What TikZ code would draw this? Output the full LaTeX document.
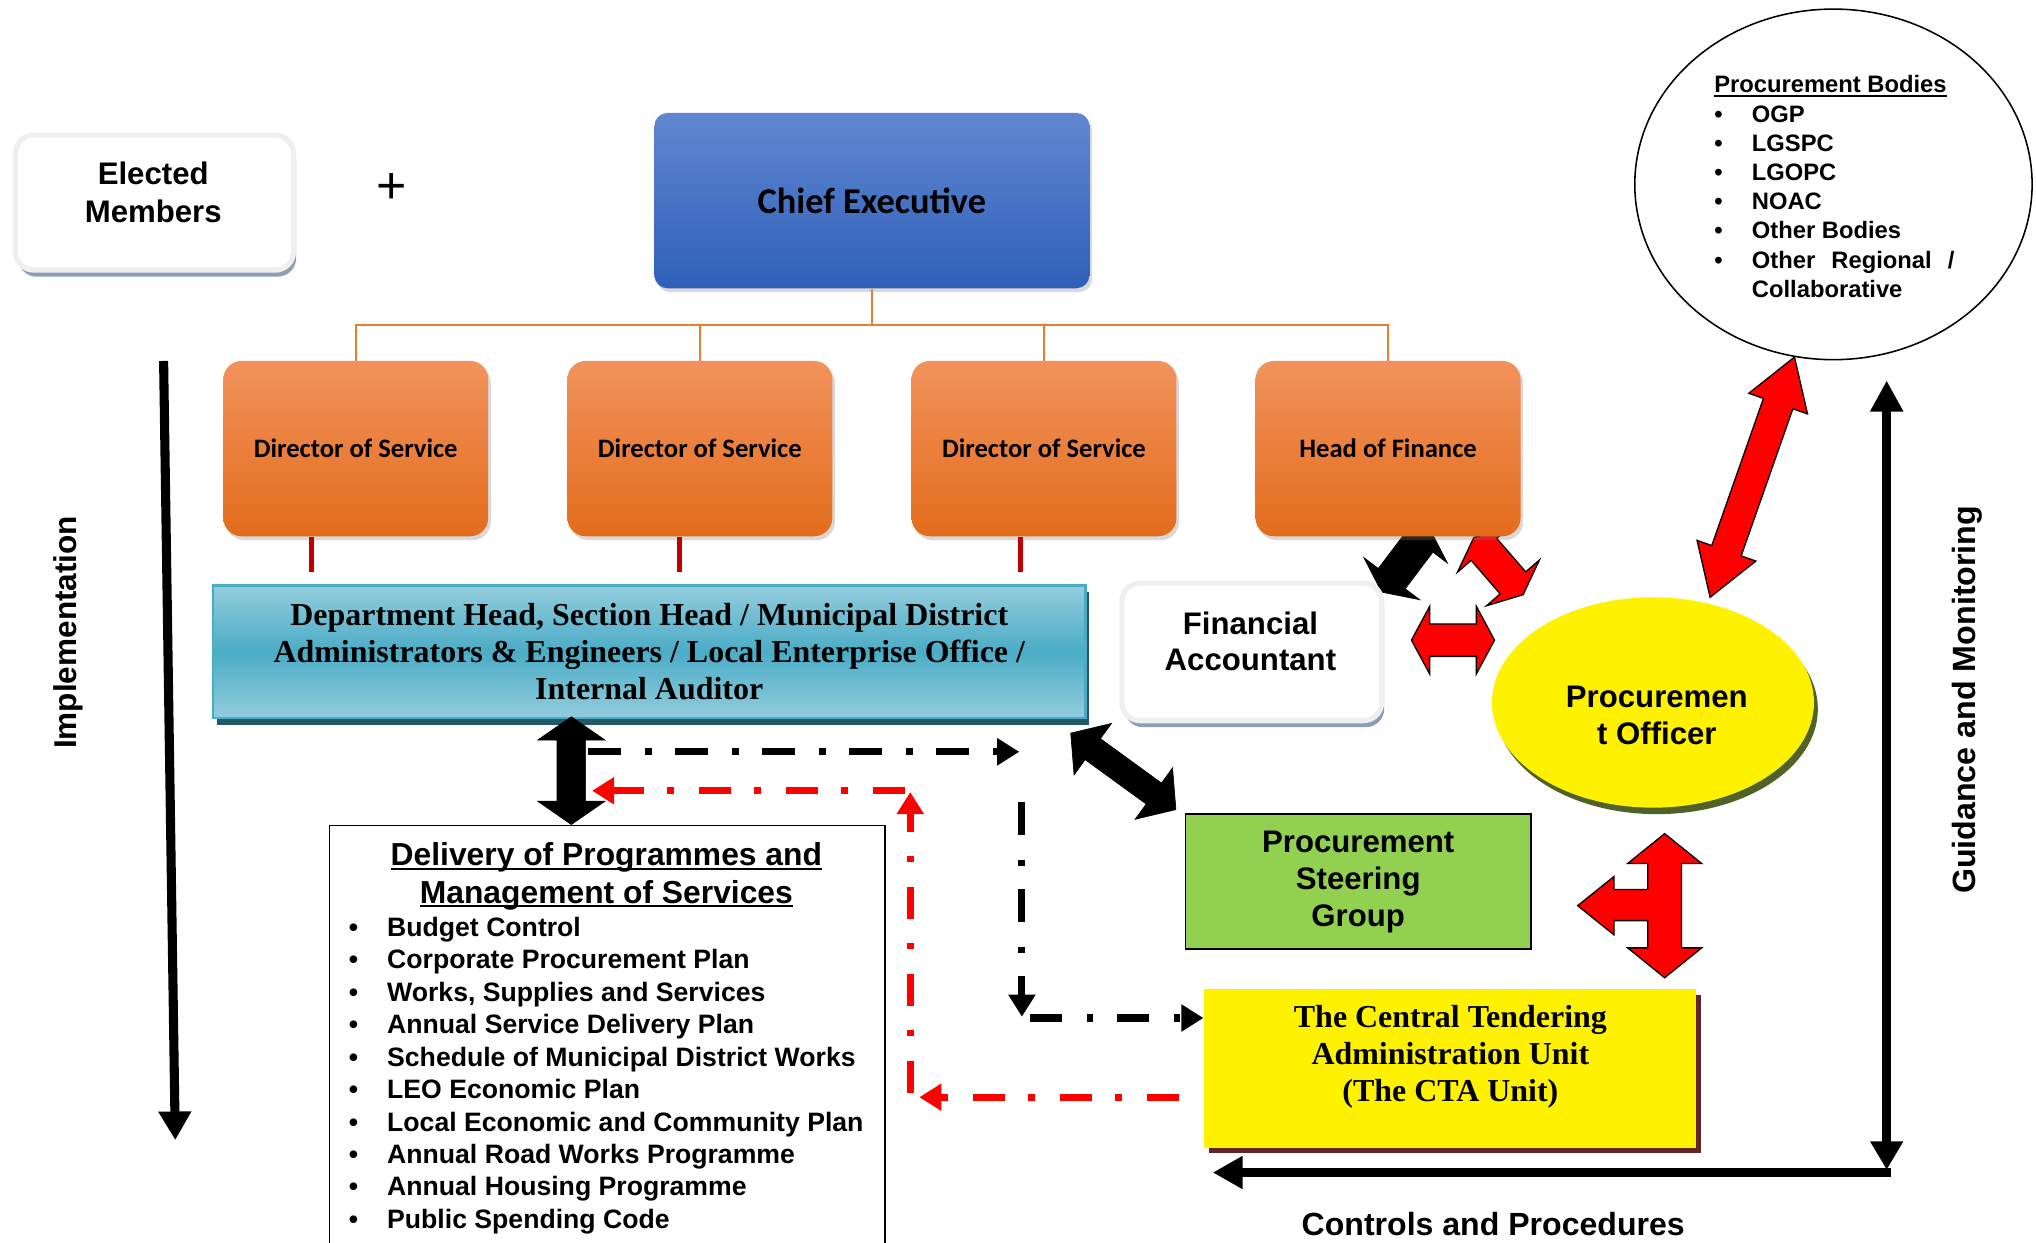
\documentclass[tikz,border=0pt]{standalone}
\usepackage{fontspec}
\setmainfont{Liberation Sans}
\newfontfamily\timesfont{Liberation Serif}
\newfontfamily\calfont{Carlito}
\usetikzlibrary{calc,arrows.meta,shadows,shapes.geometric,backgrounds}

\definecolor{orgtop}{HTML}{F2935C}
\definecolor{orgbot}{HTML}{E36C1C}
\definecolor{cetop}{HTML}{6088D0}
\definecolor{cebot}{HTML}{2F5FB9}
\definecolor{tealmid}{HTML}{4BACC6}
\definecolor{teallt}{HTML}{93CDDD}
\definecolor{tealdk}{HTML}{215968}
\definecolor{psggreen}{HTML}{92D050}
\definecolor{ctashadow}{HTML}{632523}
\definecolor{poshadow}{HTML}{4F6228}
\definecolor{greyrim}{HTML}{EFEFEF}
\definecolor{greyshadow}{HTML}{8C9DB5}
\definecolor{treeorange}{HTML}{ED7D31}
\definecolor{tickred}{HTML}{C00000}

\newcommand{\fsz}[2]{\fontsize{#1}{#2}\selectfont}
\newcommand{\undl}[1]{\setbox0\hbox{#1}\rlap{\rule[-3pt]{\wd0}{1.6pt}}\box0}
\newcommand{\bul}[1]{\makebox[#1][l]{\textbullet}}

% double headed block arrow: style, from, to, shaft half width, head half width, head length
\newcommand{\blockarrow}[6]{%
  \path let \p1=($(#3)-(#2)$) in \pgfextra{%
    \pgfmathparse{veclen(\x1,\y1)}\xdef\blen{\pgfmathresult}%
    \pgfmathparse{atan2(\y1,\x1)}\xdef\bang{\pgfmathresult}};
  \filldraw[#1, shift={(#2)}, rotate=\bang]
    (0pt,0pt) -- (#6pt,#5pt) -- (#6pt,#4pt) -- (\blen pt-#6pt,#4pt) -- (\blen pt-#6pt,#5pt)
    -- (\blen pt,0pt) -- (\blen pt-#6pt,-#5pt) -- (\blen pt-#6pt,-#4pt) -- (#6pt,-#4pt)
    -- (#6pt,-#5pt) -- cycle;
}

\tikzset{
  lightbox/.style={rounded corners=14pt, draw=greyrim, line width=4pt, fill=white,
    drop shadow={shadow xshift=2pt, shadow yshift=-5pt, fill=greyshadow, opacity=1}},
  cebox/.style={rounded corners=10pt, top color=cetop, bottom color=cebot,
    minimum width=335pt, minimum height=135pt, font=\calfont\bfseries\fsz{28}{32},
    drop shadow={shadow xshift=2pt, shadow yshift=-3pt, opacity=.3}},
  orgbox/.style={rounded corners=14pt, top color=orgtop, bottom color=orgbot,
    minimum width=204pt, minimum height=135pt, font=\calfont\bfseries\fsz{20.5}{24},
    drop shadow={shadow xshift=2pt, shadow yshift=-3pt, opacity=.3}},
  deptbox/.style={draw=tealmid, line width=2pt, top color=teallt, bottom color=teallt,
    middle color=tealmid, minimum width=672pt, minimum height=102pt, align=center,
    font=\timesfont\bfseries\fsz{24.6}{28.5},
    drop shadow={shadow xshift=3pt, shadow yshift=-5pt, fill=tealdk, opacity=1}},
  psgbox/.style={draw=black, line width=1.5pt, fill=psggreen, minimum width=266pt,
    minimum height=104pt, align=center, font=\bfseries\fsz{24}{28.5}},
  ctabox/.style={fill=yellow, minimum width=379pt, minimum height=122pt,
    drop shadow={shadow xshift=4pt, shadow yshift=-4pt, fill=ctashadow, opacity=1}},
  poell/.style={ellipse, fill=yellow, minimum width=248pt, minimum height=162pt,
    drop shadow={shadow xshift=3pt, shadow yshift=-5pt, fill=poshadow, opacity=1}},
  treeline/.style={draw=treeorange, line width=1.5pt},
  redtick/.style={draw=tickred, line width=4pt},
  bigline/.style={line width=7pt},
  dashblack/.style={line width=5.5pt, dash pattern=on 25pt off 19pt on 5pt off 18pt,
    -{Triangle[width=20pt,length=17pt]}},
  dashred/.style={dashblack, red},
  redarrow/.style={fill=red, draw=black, line width=1pt},
  blkarrow/.style={fill=black, draw=black, line width=.5pt},
}

\begin{document}
\begin{tikzpicture}[x=1pt, y=-1pt]
\useasboundingbox (0,0) rectangle (1568,957);
\clip (0,0) rectangle (1568,957);

% block arrows hidden under Head of Finance
\coordinate (fa1) at (1064,456);
\coordinate (fa2) at (1101,407);
\coordinate (hf1) at (1135,414);
\coordinate (hf2) at (1173,458);
\begin{pgfonlayer}{background}
\blockarrow{blkarrow}{fa1}{fa2}{13}{27}{13}
\blockarrow{redarrow}{hf1}{hf2}{13}{27}{12}
\end{pgfonlayer}

% top row
\node[lightbox, minimum width=214pt, minimum height=104pt] (elected) at (119,156) {};
\node[font=\bfseries\fsz{24}{29}, align=center] (electedtxt) at (118,148) {Elected\\Members};
\node[font=\fsz{40}{40}] (plus) at (302,145) {+};
\node[cebox] (chief) at (671.5,154.5) {Chief Executive};

% directors
\foreach \i/\px/\t in {1/274/Director of Service, 2/539/Director of Service,
    3/804/Director of Service, 4/1069/Head of Finance}
  \node[orgbox] (dir\i) at (\px,345.5) {\t};
\draw[treeline] (chief.south) -- ++(0,28) coordinate (bus);
\foreach \i in {1,...,4}
  \draw[treeline] (bus) -| (dir\i.north);
\foreach \i/\dx in {1/-34, 2/-16, 3/-18}
  \draw[redtick] ($(dir\i.south)+(\dx,0)$) -- ++(0,27);

% middle row
\node[deptbox] (dept) at (500,502) {Department Head, Section Head / Municipal District\\
  Administrators \& Engineers / Local Enterprise Office /\\Internal Auditor};
\node[lightbox, minimum width=200pt, minimum height=106pt] (finacc) at (964,502) {};
\node[font=\bfseries\fsz{24}{28}, align=center] (finacctxt) at (963,494) {Financial\\Accountant};
\node[poell] (procoff) at (1273,541) {};
\node[font=\bfseries\fsz{24}{28}, align=center] (procofftxt) at (1276,551) {Procuremen\\t Officer};

% procurement bodies
\node[draw, ellipse, line width=1.2pt, fill=white, minimum width=306pt,
  minimum height=270pt] (bodies) at (1412,142) {};
\node[anchor=north west, align=left, inner sep=0, font=\bfseries\fsz{18.3}{22.5}]
  (bodiestxt) at (1320,58) {\undl{Procurement Bodies}\\
  \bul{29pt}OGP\\\bul{29pt}LGSPC\\\bul{29pt}LGOPC\\\bul{29pt}NOAC\\
  \bul{29pt}Other Bodies\\\bul{29pt}\makebox[156pt][s]{Other Regional /}\\
  \makebox[29pt]{}Collaborative};

% lower row
\node[psgbox] (steer) at (1046,679) {Procurement\\Steering\\Group};
\node[ctabox] (cta) at (1116.5,823) {};
\node[font=\timesfont\bfseries\fsz{24.6}{28.5}, align=center] (ctatxt) at (1117,814)
  {The Central Tendering\\Administration Unit\\(The CTA Unit)};
\node[draw, line width=1.3pt, fill=white, minimum width=428pt, minimum height=340pt,
  anchor=north west, inner sep=0] (deliv) at (253,635) {};
\node[font=\bfseries\fsz{24.5}{29}, align=center] (delivtitle) at (467,675)
  {\undl{Delivery of Programmes and}\\\undl{Management of Services}};
\node[anchor=north west, align=left, inner sep=0, font=\bfseries\fsz{20.5}{25}]
  (delivlist) at (268.5,706) {\bul{29.5pt}Budget Control\\
  \bul{29.5pt}Corporate Procurement Plan\\\bul{29.5pt}Works, Supplies and Services\\
  \bul{29.5pt}Annual Service Delivery Plan\\\bul{29.5pt}Schedule of Municipal District Works\\
  \bul{29.5pt}LEO Economic Plan\\\bul{29.5pt}Local Economic and Community Plan\\
  \bul{29.5pt}Annual Road Works Programme\\\bul{29.5pt}Annual Housing Programme\\
  \bul{29.5pt}Public Spending Code};

% side labels
\node[rotate=90, font=\bfseries\fsz{24.3}{24}] (impl) at (53,487) {Implementation};
\node[rotate=90, font=\bfseries\fsz{24.8}{24}] (guide) at (1515,539) {Guidance and Monitoring};
\node[font=\bfseries\fsz{24.7}{24}] (ctrl) at (1150,943) {Controls and Procedures};

% long arrows
\coordinate (imptop) at (126,278);
\coordinate (impbot) at (135,878);
\draw[bigline, -{Triangle[width=24pt,length=22pt]}] (imptop) -- (impbot);
\coordinate (gtop) at (1453,293);
\coordinate (gbot) at (1453,901);
\coordinate (gcorner) at (1456.5,903);
\coordinate (cleft) at (934,903);
\draw[bigline, {Triangle[width=24pt,length=24pt]}-{Triangle[width=24pt,length=22pt]}] (gtop) -- (gbot);
\draw[bigline, -{Triangle[width=24pt,length=23pt]}] (gcorner) -- (cleft);

% block arrows
\coordinate (fp1) at (1087,493);
\coordinate (fp2) at (1151,493);
\blockarrow{redarrow}{fp1}{fp2}{12.5}{26}{14}
\coordinate (pb1) at (1382,275);
\coordinate (pb2) at (1317,460);
\blockarrow{redarrow}{pb1}{pb2}{12}{24}{38}
\coordinate (dd1) at (440,552);
\coordinate (dd2) at (440,635);
\blockarrow{blkarrow}{dd1}{dd2}{11}{26}{18}
\coordinate (ds1) at (824.6,564.6);
\coordinate (ds2) at (905.6,623.5);
\blockarrow{blkarrow}{ds1}{ds2}{10}{24.5}{21}
\coordinate (tee) at (1282,697.5);
\filldraw[redarrow, shift={(tee)}] (0,-55.5) -- (28.5,-32.5) -- (13,-32.5) -- (13,32.5)
  -- (28.5,32.5) -- (0,55.5) -- (-28.5,32.5) -- (-13,32.5) -- (-13,11.5) -- (-39,11.5)
  -- (-39,22.5) -- (-67,0) -- (-39,-22.5) -- (-39,-12.5) -- (-13,-12.5) -- (-13,-32.5)
  -- (-28.5,-32.5) -- cycle;

% dash dot flows
\coordinate (kb1) at (453,579);
\coordinate (kb2) at (785,579);
\coordinate (kb3) at (787,618);
\coordinate (kb4) at (787,783);
\coordinate (kb5) at (793,784);
\draw[dashblack] (kb1) -- (kb2);
\draw[dashblack] (kb3) -- (kb4);
\draw[dashblack] (kb5) -- (kb5 -| cta.west);
\coordinate (kr1) at (908,845);
\coordinate (kr2) at (708,845);
\coordinate (kr3) at (701,842);
\coordinate (kr4) at (701,610);
\coordinate (kr5) at (697,609);
\coordinate (kr6) at (456,609);
\draw[dashred] (kr1) -- (kr2);
\draw[dashred] (kr3) -- (kr4);
\draw[dashred] (kr5) -- (kr6);
\end{tikzpicture}
\end{document}
